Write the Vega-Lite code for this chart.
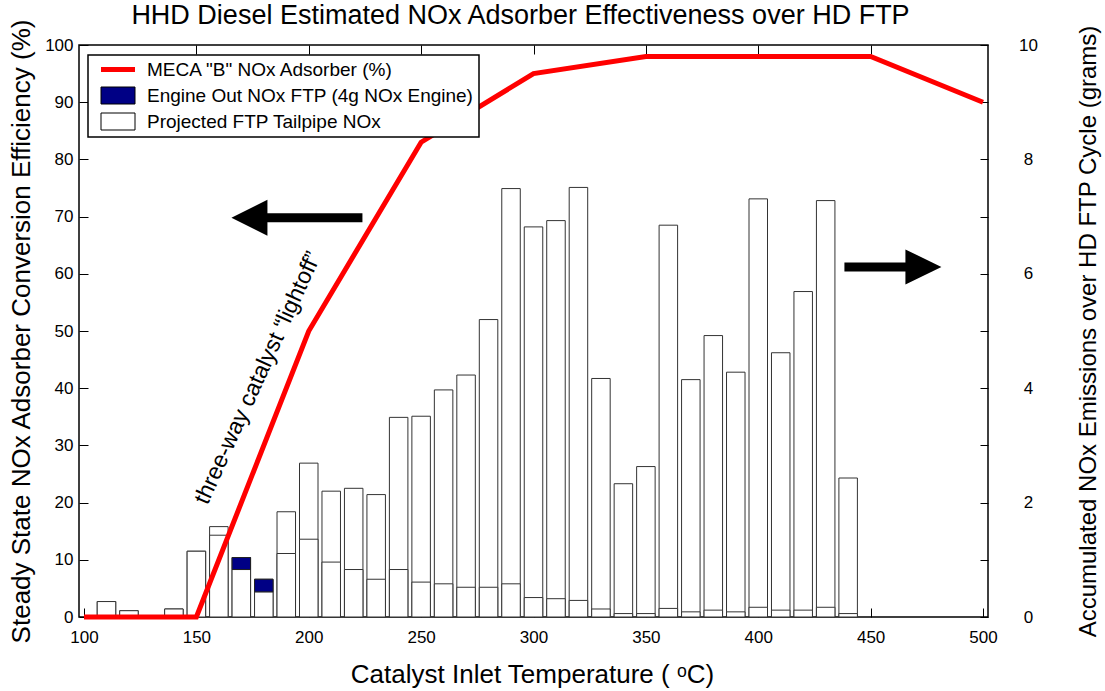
{
  "$schema": "https://vega.github.io/schema/vega-lite/v6.json",
  "width": 909,
  "height": 572,
  "autosize": "none",
  "padding": {"left": 79, "top": 45, "right": 117, "bottom": 74},
  "background": "white",
  "config": {
    "font": "Liberation Sans",
    "view": {"stroke": "black", "strokeWidth": 1.5},
    "axis": {"grid": false, "domain": false, "tickColor": "black", "tickWidth": 1, "labelColor": "black", "titleColor": "black", "labelFlush": false, "labelOverlap": false, "titleFontWeight": "normal", "labelFontSize": 17}
  },
  "title": {"text": "HHD Diesel Estimated NOx Adsorber Effectiveness over HD FTP", "fontSize": 27, "fontWeight": "normal", "color": "black", "anchor": "middle", "baseline": "alphabetic", "offset": 0, "dy": 33, "dx": -13},
  "datasets": {
    "bins": [
      {"T": 110, "engine": 0.27, "tailpipe": 0.27},
      {"T": 120, "engine": 0.11, "tailpipe": 0.11},
      {"T": 140, "engine": 0.14, "tailpipe": 0.14},
      {"T": 150, "engine": 1.15, "tailpipe": 1.15},
      {"T": 160, "engine": 1.58, "tailpipe": 1.43},
      {"T": 170, "engine": 1.04, "tailpipe": 0.83},
      {"T": 180, "engine": 0.66, "tailpipe": 0.44},
      {"T": 190, "engine": 1.84, "tailpipe": 1.11},
      {"T": 200, "engine": 2.69, "tailpipe": 1.36},
      {"T": 210, "engine": 2.20, "tailpipe": 0.96},
      {"T": 220, "engine": 2.25, "tailpipe": 0.83},
      {"T": 230, "engine": 2.14, "tailpipe": 0.66},
      {"T": 240, "engine": 3.49, "tailpipe": 0.83},
      {"T": 250, "engine": 3.51, "tailpipe": 0.61},
      {"T": 260, "engine": 3.97, "tailpipe": 0.58},
      {"T": 270, "engine": 4.23, "tailpipe": 0.52},
      {"T": 280, "engine": 5.20, "tailpipe": 0.52},
      {"T": 290, "engine": 7.49, "tailpipe": 0.58},
      {"T": 300, "engine": 6.82, "tailpipe": 0.34},
      {"T": 310, "engine": 6.93, "tailpipe": 0.32},
      {"T": 320, "engine": 7.51, "tailpipe": 0.29},
      {"T": 330, "engine": 4.17, "tailpipe": 0.14},
      {"T": 340, "engine": 2.33, "tailpipe": 0.06},
      {"T": 350, "engine": 2.63, "tailpipe": 0.06},
      {"T": 360, "engine": 6.85, "tailpipe": 0.15},
      {"T": 370, "engine": 4.15, "tailpipe": 0.09},
      {"T": 380, "engine": 4.92, "tailpipe": 0.12},
      {"T": 390, "engine": 4.28, "tailpipe": 0.09},
      {"T": 400, "engine": 7.31, "tailpipe": 0.17},
      {"T": 410, "engine": 4.62, "tailpipe": 0.12},
      {"T": 420, "engine": 5.69, "tailpipe": 0.12},
      {"T": 430, "engine": 7.28, "tailpipe": 0.17},
      {"T": 440, "engine": 2.43, "tailpipe": 0.06}
    ],
    "meca": [
      {"T": 100, "eff": 0},
      {"T": 150, "eff": 0},
      {"T": 200, "eff": 50},
      {"T": 250, "eff": 83},
      {"T": 300, "eff": 95},
      {"T": 350, "eff": 98},
      {"T": 450, "eff": 98},
      {"T": 500, "eff": 90}
    ]
  },
  "layer": [
    {
      "data": {"name": "bins"},
      "layer": [
        {
          "mark": {"type": "bar", "width": 18.5, "fill": "white", "stroke": "#333", "strokeWidth": 1},
          "encoding": {
            "x": {"field": "T", "type": "quantitative", "scale": {"domain": [100, 500], "nice": false, "zero": false},
              "axis": {"orient": "bottom", "values": [100, 150, 200, 250, 300, 350, 400, 450, 500], "tickSize": -9, "labelPadding": 21, "title": "Catalyst Inlet Temperature ( ᵒC)", "titleFontSize": 26, "titleX": 453, "titleY": 65, "titleBaseline": "alphabetic", "titleAlign": "center"}},
            "y": {"field": "engine", "type": "quantitative", "scale": {"domain": [0, 10], "nice": false},
              "axis": {"orient": "right", "values": [0, 1, 2, 3, 4, 5, 6, 7, 8, 9, 10], "labelExpr": "datum.value % 2 === 0 ? format(datum.value, 'd') : ''", "tickSize": -8, "labelPadding": 48, "labelAlign": "center", "labelBaseline": "middle", "title": "Accumulated NOx Emissions over HD FTP Cycle (grams)", "titleFontSize": 24, "titleAngle": 270, "titleX": 100, "titleY": 286, "titleBaseline": "middle", "titleAlign": "center"}}
          }
        },
        {
          "mark": {"type": "bar", "width": 18.5, "stroke": "#333", "strokeWidth": 1},
          "encoding": {
            "x": {"field": "T", "type": "quantitative"},
            "y": {"field": "tailpipe", "type": "quantitative"},
            "color": {"datum": "Projected FTP Tailpipe NOx", "type": "nominal",
              "scale": {"domain": ["MECA \"B\" NOx Adsorber (%)", "Engine Out NOx FTP (4g NOx Engine)", "Projected FTP Tailpipe NOx"], "range": ["#ff0000", "#000085", "#ffffff"]},
              "legend": {"title": null, "orient": "none", "legendX": 9, "legendY": 10, "padding": 5, "symbolOffset": 15.5, "labelOffset": 19.5, "rowPadding": 5, "labelFontSize": 19, "labelColor": "black", "strokeColor": "black", "fillColor": "white", "symbolSize": 289, "labelLimit": 0, "symbolStrokeColor": "black", "symbolStrokeWidth": 1,
                "encode": {
                  "legend": {"update": {"strokeWidth": {"value": 1.5}}},
                  "symbols": {"update": {
                  "shape": [{"test": "datum.index === 0", "value": "M-2,-0.3H2V0.3H-2Z"}, {"value": "M-2,-1H2V1H-2Z"}],
                  "stroke": {"signal": "datum.index === 0 ? 'rgba(0,0,0,0)' : '#000000'"},
                  "strokeWidth": {"signal": "datum.index === 0 ? 0 : 1"},
                  "opacity": {"value": 1}, "fillOpacity": {"value": 1}, "strokeOpacity": {"value": 1}
                }}}}}
          }
        },
        {
          "transform": [{"filter": "datum.T === 170 || datum.T === 180"}],
          "mark": {"type": "bar", "width": 18.5, "stroke": "#222", "strokeWidth": 1},
          "encoding": {
            "x": {"field": "T", "type": "quantitative"},
            "y": {"field": "tailpipe", "type": "quantitative"},
            "y2": {"field": "engine"},
            "color": {"datum": "Engine Out NOx FTP (4g NOx Engine)", "type": "nominal"}
          }
        }
      ]
    },
    {
      "layer": [
        {
          "data": {"name": "meca"},
          "mark": {"type": "line", "strokeWidth": 5, "strokeJoin": "miter", "color": "#ff0000"},
          "encoding": {
            "x": {"field": "T", "type": "quantitative",
              "axis": {"orient": "top", "values": [150, 200, 250, 300, 350, 400, 450], "labels": false, "tickSize": -9, "title": null}},
            "y": {"field": "eff", "type": "quantitative", "scale": {"domain": [0, 100], "nice": false},
              "axis": {"orient": "left", "values": [0, 10, 20, 30, 40, 50, 60, 70, 80, 90, 100], "tickSize": -9, "labelPadding": 15, "labelBaseline": "middle", "title": "Steady State NOx Adsorber Conversion Efficiency (%)", "titleFontSize": 26, "titleAngle": 270, "titleX": -57.5, "titleY": 286, "titleBaseline": "middle", "titleAlign": "center"}}
          }
        },
        {
          "data": {"values": [{"T": 165.6, "eff": 69.8}]},
          "mark": {"type": "point", "shape": "M0,0L36,-18L36,-4.5L131,-4.5L131,4.5L36,4.5L36,18Z", "size": 4, "filled": true, "color": "black", "opacity": 1, "strokeWidth": 0},
          "encoding": {"x": {"field": "T", "type": "quantitative"}, "y": {"field": "eff", "type": "quantitative"}}
        },
        {
          "data": {"values": [{"T": 481.5, "eff": 61.2}]},
          "mark": {"type": "point", "shape": "M0,0L-36,-17.5L-36,-4.5L-97,-4.5L-97,4.5L-36,4.5L-36,17.5Z", "size": 4, "filled": true, "color": "black", "opacity": 1, "strokeWidth": 0},
          "encoding": {"x": {"field": "T", "type": "quantitative"}, "y": {"field": "eff", "type": "quantitative"}}
        },
        {
          "data": {"values": [{"T": 177.4, "eff": 41.8, "note": "three-way catalyst “lightoff”"}]},
          "mark": {"type": "text", "angle": -65.5, "fontSize": 23, "align": "center", "baseline": "middle", "color": "black"},
          "encoding": {"x": {"field": "T", "type": "quantitative"}, "y": {"field": "eff", "type": "quantitative"}, "text": {"field": "note"}}
        }
      ]
    }
  ],
  "resolve": {"scale": {"y": "independent"}, "axis": {"x": "independent", "y": "independent"}}
}
